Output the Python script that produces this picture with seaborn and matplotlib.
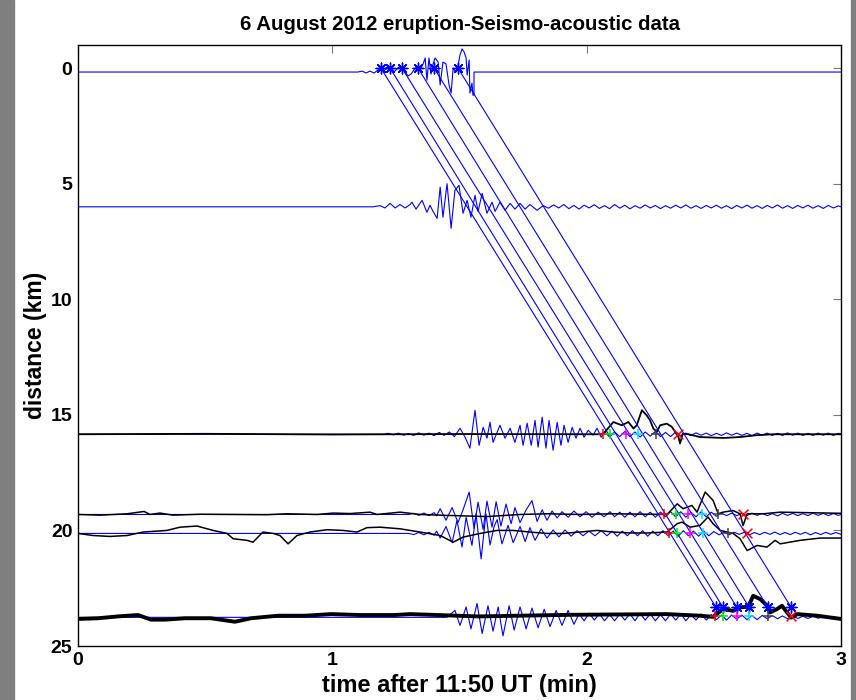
import numpy as np
import pandas as pd
import matplotlib
matplotlib.use("Agg")
import matplotlib.pyplot as plt
from matplotlib.patches import Rectangle
import seaborn as sns

# ---------------- text ----------------
TITLE = "6 August 2012 eruption-Seismo-acoustic data"
XLABEL = "time after 11:50 UT (min)"
YLABEL = "distance (km)"
X_TICKS = [0, 1, 2, 3]
Y_TICKS = [0, 5, 10, 15, 20, 25]

# ---------------- station baselines (km) ----------------
BASE_A = 0.17
BASE_B = 6.0
BASE_C = 15.84
BASE_D = 19.31
BASE_E = 20.13
BASE_F = 23.76

# ---------------- seismic traces (blue): knot times (min) and amplitudes (km, + = up) ----------------
A_T = [0.0, 1.10, 1.117, 1.133, 1.148, 1.164, 1.180, 1.191, 1.203, 1.215, 1.227, 1.239, 1.250,
       1.262, 1.274, 1.286, 1.298, 1.309, 1.321, 1.333, 1.345, 1.357, 1.365, 1.372, 1.380,
       1.388, 1.396, 1.404, 1.416, 1.424, 1.435, 1.447, 1.459, 1.467, 1.475, 1.486, 1.494,
       1.502, 1.510, 1.518, 1.526, 1.530, 1.538, 1.541, 1.549, 1.553, 1.557, 1.557, 3.0]
A_V = [0.0, 0.0, 0.04, -0.04, 0.04, -0.04, 0.09, 0.17, 0.04, 0.22, 0.13, -0.04, 0.09,
       0.22, 0.17, 0.0, -0.17, -0.09, 0.09, 0.26, 0.09, 0.35, 0.61, -0.35, 0.61,
       -0.09, 0.35, 0.61, 0.43, -0.56, 0.43, 0.35, -0.56, -0.91, 0.17, 0.0, 0.26,
       0.74, 1.00, 0.87, 0.61, -0.13, 0.52, -0.91, -0.48, -1.0, -1.0, 0.0, 0.0]

B_T = [0.0, 1.160, 1.188, 1.207, 1.227, 1.247, 1.266, 1.286, 1.306, 1.313, 1.329, 1.353, 1.372,
       1.384, 1.396, 1.412, 1.424, 1.435, 1.451, 1.467, 1.482, 1.498, 1.514, 1.530, 1.545,
       1.561, 1.573, 1.589, 1.608, 1.628, 1.640, 1.659, 1.679, 1.699, 1.718, 1.738, 1.758,
       1.777, 1.805, 1.829]
B_V = [0.0, 0.0, 0.05, -0.05, 0.15, -0.05, 0.10, -0.05, 0.10, 0.20, -0.10, 0.28, -0.24,
       0.07, -0.20, -0.50, 0.85, -0.45, 1.00, -0.93, 0.71, 0.93, -0.28, 0.28, -0.45,
       0.50, -0.20, 0.58, -0.28, 0.20, -0.20, 0.20, -0.15, 0.15, -0.10, 0.15, -0.10,
       0.10, -0.15, 0.05]
B_RIP_T0 = 1.85
B_RIP = [-0.06, 0.08, -0.05, 0.10, -0.08, 0.06, -0.10, 0.07, -0.05, 0.09, -0.07, 0.05, -0.08, 0.10,
         -0.06, 0.07, -0.09, 0.05, -0.06, 0.08, -0.05, 0.06, -0.08, 0.05, -0.06, 0.07, -0.05, 0.08,
         -0.06, 0.05, -0.07, 0.06, -0.05, 0.07, -0.06, 0.05, -0.08, 0.06, -0.05, 0.07, -0.06, 0.05,
         -0.07, 0.06, -0.05, 0.08, -0.06, 0.05, -0.07, 0.06, -0.05, 0.07, -0.06, 0.05, -0.07, 0.06,
         -0.05, 0.04]

C_T = [0.0, 1.20, 1.22, 1.24, 1.26, 1.28, 1.30, 1.32, 1.34, 1.36, 1.38, 1.40, 1.42, 1.44, 1.46, 1.48,
       1.502, 1.522, 1.541, 1.561, 1.577, 1.593, 1.608, 1.620, 1.632, 1.659, 1.679, 1.699, 1.718,
       1.738, 1.750, 1.766, 1.782, 1.797, 1.809, 1.825, 1.840, 1.852, 1.868, 1.884, 1.899, 1.911,
       1.927, 1.943, 1.958, 1.974, 1.990, 2.006, 2.025, 2.041, 2.057]
C_V = [0.0, 0.0, 0.04, -0.03, 0.05, -0.04, 0.03, -0.05, 0.06, -0.04, 0.05, -0.06, 0.08, -0.05, 0.10, -0.10,
       0.26, -0.13, -0.60, 1.04, -0.48, 0.30, -0.17, 0.52, -0.35, 0.39, -0.17, 0.26, -0.35,
       0.39, -0.48, 0.48, -0.48, 0.60, -0.56, 0.74, -0.60, 0.60, -0.69, 0.52, -0.48, 0.39,
       -0.35, 0.30, -0.17, 0.26, -0.13, 0.17, -0.04, 0.26, -0.13]
C_RIP_T0 = 2.07
C_RIP = [0.10, -0.12, 0.10, -0.10, 0.12, -0.10, 0.10, -0.12, 0.10, -0.08, 0.12, -0.10, 0.08, -0.10,
         0.10, -0.06, 0.05, -0.05, 0.06, -0.04, 0.05, -0.06, 0.04, -0.05, 0.06, -0.04, 0.05, -0.05,
         0.04, -0.06, 0.05, -0.04, 0.05, -0.05, 0.04, -0.05, 0.06, -0.04, 0.05, -0.05, 0.04, -0.05,
         0.05, -0.04, 0.05, -0.05, 0.04]

D_T = [0.0, 1.30, 1.32, 1.34, 1.36, 1.38, 1.40, 1.41, 1.424, 1.447, 1.471, 1.494, 1.514, 1.538,
       1.557, 1.573, 1.593, 1.608, 1.628, 1.644, 1.663, 1.683, 1.703, 1.718, 1.738, 1.762, 1.785,
       1.805, 1.825, 1.844, 1.864, 1.884, 1.903, 1.927, 1.950, 1.974, 1.998, 2.021, 2.045, 2.068,
       2.092]
D_V = [0.0, 0.0, 0.05, -0.04, 0.06, -0.05, 0.08, -0.06, 0.25, -0.25, 0.30, -0.35, 0.20, 0.97,
       -0.60, 0.53, -0.65, 0.58, -0.55, 0.55, -0.50, 0.45, -0.40, 0.30, -0.35, 0.20, 0.60,
       -0.30, 0.20, -0.25, 0.15, -0.15, 0.12, -0.12, 0.15, -0.10, 0.12, -0.12, 0.10, -0.10,
       0.12]
D_RIP_T0 = 2.11
D_RIP = [-0.10, 0.10, -0.12, 0.10, -0.10, 0.12, -0.10, 0.10, -0.12, 0.10, -0.10, 0.12, -0.10, 0.12,
         -0.12, 0.10, -0.10, 0.12, -0.10, 0.10, -0.08, 0.06, -0.05, 0.06, -0.05, 0.04, -0.05, 0.06,
         -0.04, 0.05, -0.05, 0.04, -0.06, 0.05, -0.04, 0.05, -0.05, 0.04, -0.05, 0.06, -0.04, 0.05,
         -0.05, 0.04, -0.04]

E_T = [0.0, 1.30, 1.32, 1.34, 1.36, 1.38, 1.40, 1.41, 1.424, 1.447, 1.471, 1.490, 1.510, 1.526,
       1.549, 1.565, 1.585, 1.604, 1.620, 1.636, 1.648, 1.667, 1.691, 1.711, 1.738, 1.758, 1.777,
       1.797, 1.821, 1.844, 1.868, 1.891, 1.915, 1.939, 1.962, 1.986, 2.009, 2.033, 2.057, 2.080]
E_V = [0.0, 0.0, -0.05, 0.04, -0.06, 0.05, -0.08, 0.10, -0.20, 0.30, -0.40, 0.56, -0.59, 0.70,
       -0.52, 0.85, -1.10, 0.85, -0.50, 0.30, 0.60, -0.45, 0.35, -0.40, 0.30, -0.35, 0.25,
       -0.30, 0.20, -0.20, 0.15, -0.15, 0.15, -0.12, 0.12, -0.10, 0.10, -0.10, 0.12, -0.10]
E_RIP_T0 = 2.10
E_RIP = [0.10, -0.12, 0.10, -0.10, 0.12, -0.10, 0.12, -0.12, 0.10, -0.10, 0.12, -0.10, 0.10, -0.12,
         0.12, -0.10, 0.10, -0.12, 0.10, -0.10, 0.08, -0.06, 0.05, -0.06, 0.05, -0.04, 0.05, -0.06,
         0.04, -0.05, 0.05, -0.04, 0.06, -0.05, 0.04, -0.05, 0.05, -0.04, 0.05, -0.06, 0.04, -0.05,
         0.05, -0.04, 0.04, -0.04]

F_T = [0.0, 1.45, 1.482, 1.502, 1.526, 1.545, 1.569, 1.589, 1.612, 1.632, 1.652, 1.671, 1.695,
       1.715, 1.738, 1.762, 1.785, 1.809, 1.833, 1.856, 1.880, 1.903, 1.927, 1.950]
F_V = [0.0, 0.0, 0.30, -0.35, 0.45, -0.50, 0.60, -0.70, 0.50, -0.60, 0.45, -0.80, 0.50,
       -0.55, 0.45, -0.50, 0.40, -0.45, 0.35, -0.40, 0.30, -0.35, 0.30, -0.30]
F_RIP_T0 = 1.97
F_RIP = [0.15, -0.15, 0.18, -0.12, 0.15, -0.15, 0.12, -0.15, 0.15, -0.12, 0.15, -0.15, 0.18, -0.12,
         0.15, -0.15, 0.12, -0.15, 0.15, -0.12, 0.15, -0.15, 0.12, -0.12, 0.15, -0.12, 0.12, -0.10,
         0.10, -0.12, 0.10, -0.08, 0.10, -0.10, 0.08, -0.10, 0.08, -0.06, 0.08, -0.06, 0.06, -0.06,
         0.06, -0.05, 0.05, -0.05, 0.05, -0.04, 0.04, -0.04, 0.04, -0.04]

# ---------------- acoustic traces (black) ----------------
KC_T = [0.0, 0.5, 1.0, 1.5, 2.064, 2.105, 2.138, 2.164, 2.184, 2.197, 2.217, 2.236, 2.249, 2.262,
        2.276, 2.289, 2.315, 2.335, 2.348, 2.361, 2.367, 2.378, 2.400, 2.446, 2.538, 2.603, 2.669,
        2.734, 3.0]
KC_V = [0.0, 0.02, -0.01, 0.01, 0.0, 0.53, 0.39, 0.53, 0.25, 0.39, 1.04, 0.82, 0.61, 0.25,
        0.10, 0.39, 0.46, 0.32, 0.10, -0.12, -0.40, 0.03, 0.0, -0.12, -0.16, -0.12, -0.04,
        0.0, 0.0]

KD_T = [0.0, 0.087, 0.193, 0.260, 0.283, 0.322, 0.374, 0.480, 0.610, 0.743, 0.822, 0.940, 1.003,
        1.070, 1.148, 1.176, 1.266, 1.345, 1.451, 1.608, 1.738, 1.844, 1.974, 2.104, 2.316, 2.356,
        2.379, 2.414, 2.434, 2.466, 2.485, 2.497, 2.517, 2.536, 2.576, 2.603, 2.615, 2.631, 2.694,
        2.761, 3.0]
KD_V = [0.0, -0.03, 0.03, 0.13, 0.0, 0.06, -0.03, 0.01, 0.0, -0.01, 0.03, 0.0, 0.06,
        0.04, 0.10, 0.0, 0.10, 0.0, -0.04, -0.09, 0.0, 0.03, 0.0, 0.03, 0.0, 0.46,
        0.25, 0.39, 0.10, 0.97, 0.75, 0.61, 0.03, 0.10, 0.17, 0.03, -0.48, 0.03, 0.03,
        0.10, 0.05]

KE_T = [0.0, 0.059, 0.126, 0.193, 0.256, 0.350, 0.401, 0.468, 0.531, 0.586, 0.610, 0.665, 0.688,
        0.727, 0.767, 0.794, 0.826, 0.861, 0.912, 0.979, 1.042, 1.097, 1.136, 1.188, 1.266, 1.345,
        1.424, 1.475, 1.514, 1.581, 1.648, 1.711, 1.777, 1.844, 1.907, 1.974, 2.041, 2.104, 2.171,
        2.238, 2.316, 2.356, 2.375, 2.407, 2.446, 2.477, 2.497, 2.525, 2.552, 2.576, 2.603, 2.631,
        2.670, 2.709, 2.741, 2.761, 2.839, 2.918, 3.0]
KE_V = [0.0, -0.09, -0.13, -0.09, 0.06, 0.13, 0.27, 0.32, 0.13, 0.0, -0.23, -0.30, -0.38,
        0.06, 0.0, -0.09, -0.45, -0.09, 0.06, 0.16, 0.13, 0.06, 0.25, 0.27, 0.20, 0.06,
        -0.09, -0.38, -0.16, 0.0, 0.13, 0.13, 0.06, 0.0, 0.0, 0.06, 0.13, 0.06, 0.02,
        0.02, 0.06, 0.42, 0.49, 0.27, 0.35, 0.71, 0.42, 0.13, 0.06, 0.0, -0.23, -0.74,
        -0.52, -0.59, -0.30, -0.45, -0.30, -0.20, -0.20]

KF_T = [0.0, 0.079, 0.157, 0.236, 0.287, 0.342, 0.421, 0.523, 0.617, 0.680, 0.786, 0.893, 0.995,
        1.109, 1.243, 1.306, 1.573, 1.942, 2.316, 2.446, 2.497, 2.536, 2.576, 2.603, 2.635, 2.655,
        2.682, 2.710, 2.721, 2.749, 2.768, 2.788, 2.804, 2.828, 2.906, 3.0]
KF_V = [-0.03, 0.0, 0.08, 0.14, -0.06, -0.06, 0.0, 0.0, -0.15, 0.0, 0.11, 0.11, 0.18,
        0.14, 0.14, 0.18, 0.08, 0.15, 0.18, 0.11, 0.06, 0.40, 0.32, 0.47, 0.50, 0.97,
        0.83, 0.54, 0.25, 0.40, 0.54, 0.25, 0.03, 0.18, 0.11, -0.03]

# ---------------- move-out lines ----------------
MOVE_T_TOP = [1.191, 1.227, 1.274, 1.337, 1.400, 1.494]
MOVE_T_BOT = [2.509, 2.536, 2.591, 2.639, 2.713, 2.804]
MOVE_Y_TOP = 0.0
MOVE_Y_BOT = 23.33

# ---------------- picks on the acoustic traces ----------------
PICK_Y = [15.84, 19.31, 20.13, 23.70]
PICK_T = [
    [2.064, 2.092, 2.155, 2.202, 2.273, 2.359],
    [2.304, 2.352, 2.399, 2.454, 2.517, 2.615],
    [2.324, 2.355, 2.407, 2.458, 2.556, 2.631],
    [2.505, 2.536, 2.591, 2.639, 2.713, 2.804],
]
PICK_COLORS = ["#ff0000", "#00ee00", "#ff00ff", "#00e5ff", "#444444", "#ff0000"]
PICK_MARKERS = ["+", "+", "+", "+", "+", "x"]


def build(t_knots, v_knots, base, rip_t0=None, rip=None):
    t = list(t_knots)
    v = list(v_knots)
    if rip is not None:
        rt = list(np.round(rip_t0 + 0.02 * np.arange(len(rip)), 4))
        t += rt
        v += list(rip)
        if t[-1] < 3.0:
            t.append(3.0)
            v.append(0.0)
    return pd.DataFrame({"t": t, "y": base - np.array(v)})


sns.set_theme(style="white")
plt.rcParams["font.family"] = ["Liberation Sans", "DejaVu Sans"]
plt.rcParams["font.weight"] = "bold"
plt.rcParams["text.color"] = "black"
plt.rcParams["axes.labelcolor"] = "black"
plt.rcParams["xtick.labelcolor"] = "black"
plt.rcParams["ytick.labelcolor"] = "black"

fig = plt.figure(figsize=(8.56, 7.0), dpi=100)
fig.patch.set_facecolor("white")
ax = fig.add_axes([78 / 856, 54 / 700, (841 - 78) / 856, (646 - 45) / 700])

# seismic traces
seis = [
    build(A_T, A_V, BASE_A),
    build(B_T, B_V, BASE_B, B_RIP_T0, B_RIP),
    build(C_T, C_V, BASE_C, C_RIP_T0, C_RIP),
    build(D_T, D_V, BASE_D, D_RIP_T0, D_RIP),
    build(E_T, E_V, BASE_E, E_RIP_T0, E_RIP),
    build(F_T, F_V, BASE_F, F_RIP_T0, F_RIP),
]
for df in seis:
    sns.lineplot(data=df, x="t", y="y", ax=ax, color="#0000ff", lw=0.8,
                 sort=False, estimator=None)

# acoustic traces
acou = [
    (build(KC_T, KC_V, BASE_C), 1.3),
    (build(KD_T, KD_V, BASE_D), 1.1),
    (build(KE_T, KE_V, BASE_E), 1.1),
    (build(KF_T, KF_V, 23.80), 2.8),
]
for df, lw in acou:
    sns.lineplot(data=df, x="t", y="y", ax=ax, color="black", lw=lw,
                 sort=False, estimator=None)

# move-out lines with asterisks at both ends
for t0, t1 in zip(MOVE_T_TOP, MOVE_T_BOT):
    mdf = pd.DataFrame({"t": [t0, t1], "y": [MOVE_Y_TOP, MOVE_Y_BOT]})
    sns.lineplot(data=mdf, x="t", y="y", ax=ax, color="#0000ff", lw=0.8,
                 sort=False, estimator=None)
ends = pd.DataFrame({"t": MOVE_T_TOP + MOVE_T_BOT,
                     "y": [MOVE_Y_TOP] * len(MOVE_T_TOP) + [MOVE_Y_BOT] * len(MOVE_T_BOT)})
sns.scatterplot(data=ends, x="t", y="y", ax=ax, marker=(8, 2, 0), s=60,
                color="#0000ff", linewidth=1.0, zorder=5)

# colored picks
for yk, times in zip(PICK_Y, PICK_T):
    for tk, c, m in zip(times, PICK_COLORS, PICK_MARKERS):
        sns.scatterplot(x=[tk], y=[yk], ax=ax, marker=m, s=50, color=c,
                        linewidth=1.1, zorder=6)

ax.set_xlim(0, 3)
ax.set_ylim(25, -1)
ax.set_xticks(X_TICKS)
ax.set_yticks(Y_TICKS)
ax.set_xticklabels([str(v) for v in X_TICKS], fontsize=14, fontweight="bold", color="black")
ax.set_yticklabels([str(v) for v in Y_TICKS], fontsize=14, fontweight="bold", color="black")
ax.tick_params(direction="in", length=6, width=0.8, color="#777777",
               top=True, right=True, pad=4)
for sp in ax.spines.values():
    sp.set_color("black")
    sp.set_linewidth(1.0)
ax.set_xlabel(XLABEL, fontsize=17, fontweight="bold", labelpad=4, color="black")
ax.set_ylabel(YLABEL, fontsize=16.5, fontweight="bold", labelpad=3, color="black")
ax.set_title(TITLE, fontsize=14.7, fontweight="bold", pad=11, color="black")

# grey window edges
fig.add_artist(Rectangle((0, 0), 14 / 856, 1, transform=fig.transFigure,
                         color="#7f7f7f", zorder=10))
fig.add_artist(Rectangle((851 / 856, 0), 5 / 856, 1, transform=fig.transFigure,
                         color="#7f7f7f", zorder=10))

fig.savefig("out.png", dpi=100, facecolor="white")
